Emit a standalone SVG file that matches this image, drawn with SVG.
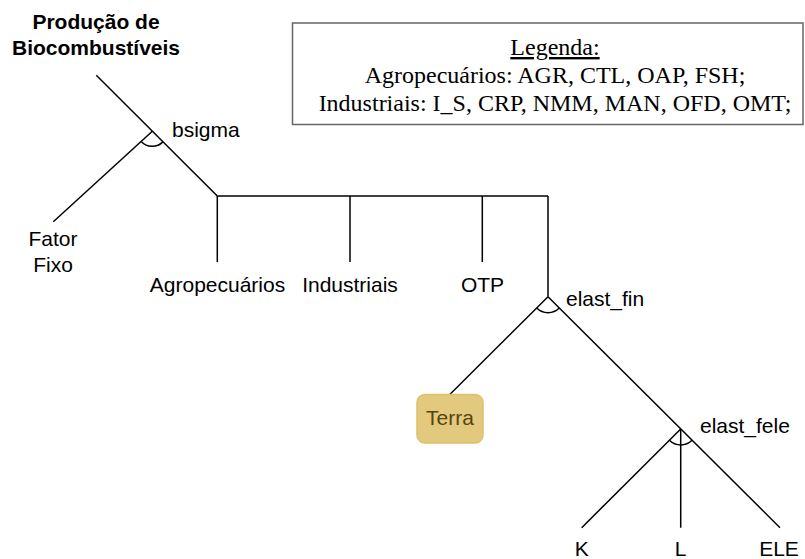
<svg xmlns="http://www.w3.org/2000/svg" width="805" height="559" viewBox="0 0 805 559">
<style>
.ln{stroke:#000;stroke-width:1.5;fill:none}
.t{font-family:"Liberation Sans",Arial,Helvetica,sans-serif;font-size:21px;fill:#000}
.tb{font-family:"Liberation Sans",Arial,Helvetica,sans-serif;font-size:21px;font-weight:bold;fill:#000;text-anchor:middle}
.c{text-anchor:middle}
.lg{font-family:"Liberation Serif","Times New Roman",serif;font-size:24px;fill:#000;text-anchor:middle}
</style>
<rect width="805" height="559" fill="#fff"/>
<g id="connectors">
<path class="ln" d="M96.3,75.3 L217.3,196"/>
<path class="ln" d="M152.3,131.3 L53.3,221.7"/>
<path class="ln" d="M217.3,196 H548"/>
<path class="ln" d="M217.3,196 V262"/>
<path class="ln" d="M350,196 V262"/>
<path class="ln" d="M482.3,196 V262"/>
<path class="ln" d="M548,196 V296.7"/>
<path class="ln" d="M548,296.7 L449.3,395"/>
<path class="ln" d="M548,296.7 L780,527.7"/>
<path class="ln" d="M680.7,429 L581.7,527.7"/>
<path class="ln" d="M680.7,429 V527.7"/>
<path class="ln" d="M141.2,141.4 A15,15 0 0,0 162.9,141.9"/>
<path class="ln" d="M536.7,308 A16,16 0 0,0 559.3,308"/>
<path class="ln" d="M669.4,440.3 A16,16 0 0,0 692,440.3"/>
</g>
<g id="node-producao">
<text class="tb" x="96" y="29">Produção de</text>
<text class="tb" x="96" y="55">Biocombustíveis</text>
</g>
<g id="node-bsigma"><text class="t" x="172" y="137">bsigma</text></g>
<g id="node-fator">
<text class="t c" x="53" y="246">Fator</text>
<text class="t c" x="53" y="272">Fixo</text>
</g>
<g id="node-agro"><text class="t c" x="217.5" y="291.5">Agropecuários</text></g>
<g id="node-industriais"><text class="t c" x="350" y="291.5">Industriais</text></g>
<g id="node-otp"><text class="t c" x="482.5" y="291.5">OTP</text></g>
<g id="node-elast-fin"><text class="t" x="566" y="306">elast_fin</text></g>
<g id="node-terra">
<rect x="417" y="394.5" width="66" height="48.5" rx="8" ry="8" fill="#e2c97d" stroke="#dcc06a" stroke-width="1.5"/>
<text class="t c" x="450" y="425" style="fill:#56440f">Terra</text>
</g>
<g id="node-elast-fele"><text class="t" x="700" y="433">elast_fele</text></g>
<g id="node-k"><text class="t c" x="581.7" y="556">K</text></g>
<g id="node-l"><text class="t c" x="680.7" y="556">L</text></g>
<g id="node-ele"><text class="t c" x="779" y="556">ELE</text></g>
<g id="legend">
<rect x="292.5" y="23" width="510.5" height="101.5" fill="#fff" stroke="#666" stroke-width="1.5"/>
<text class="lg" x="555" y="55" text-decoration="underline">Legenda:</text>
<text class="lg" x="555" y="83">Agropecuários: AGR, CTL, OAP, FSH;</text>
<text class="lg" x="555" y="111">Industriais: I_S, CRP, NMM, MAN, OFD, OMT;</text>
</g>
</svg>
